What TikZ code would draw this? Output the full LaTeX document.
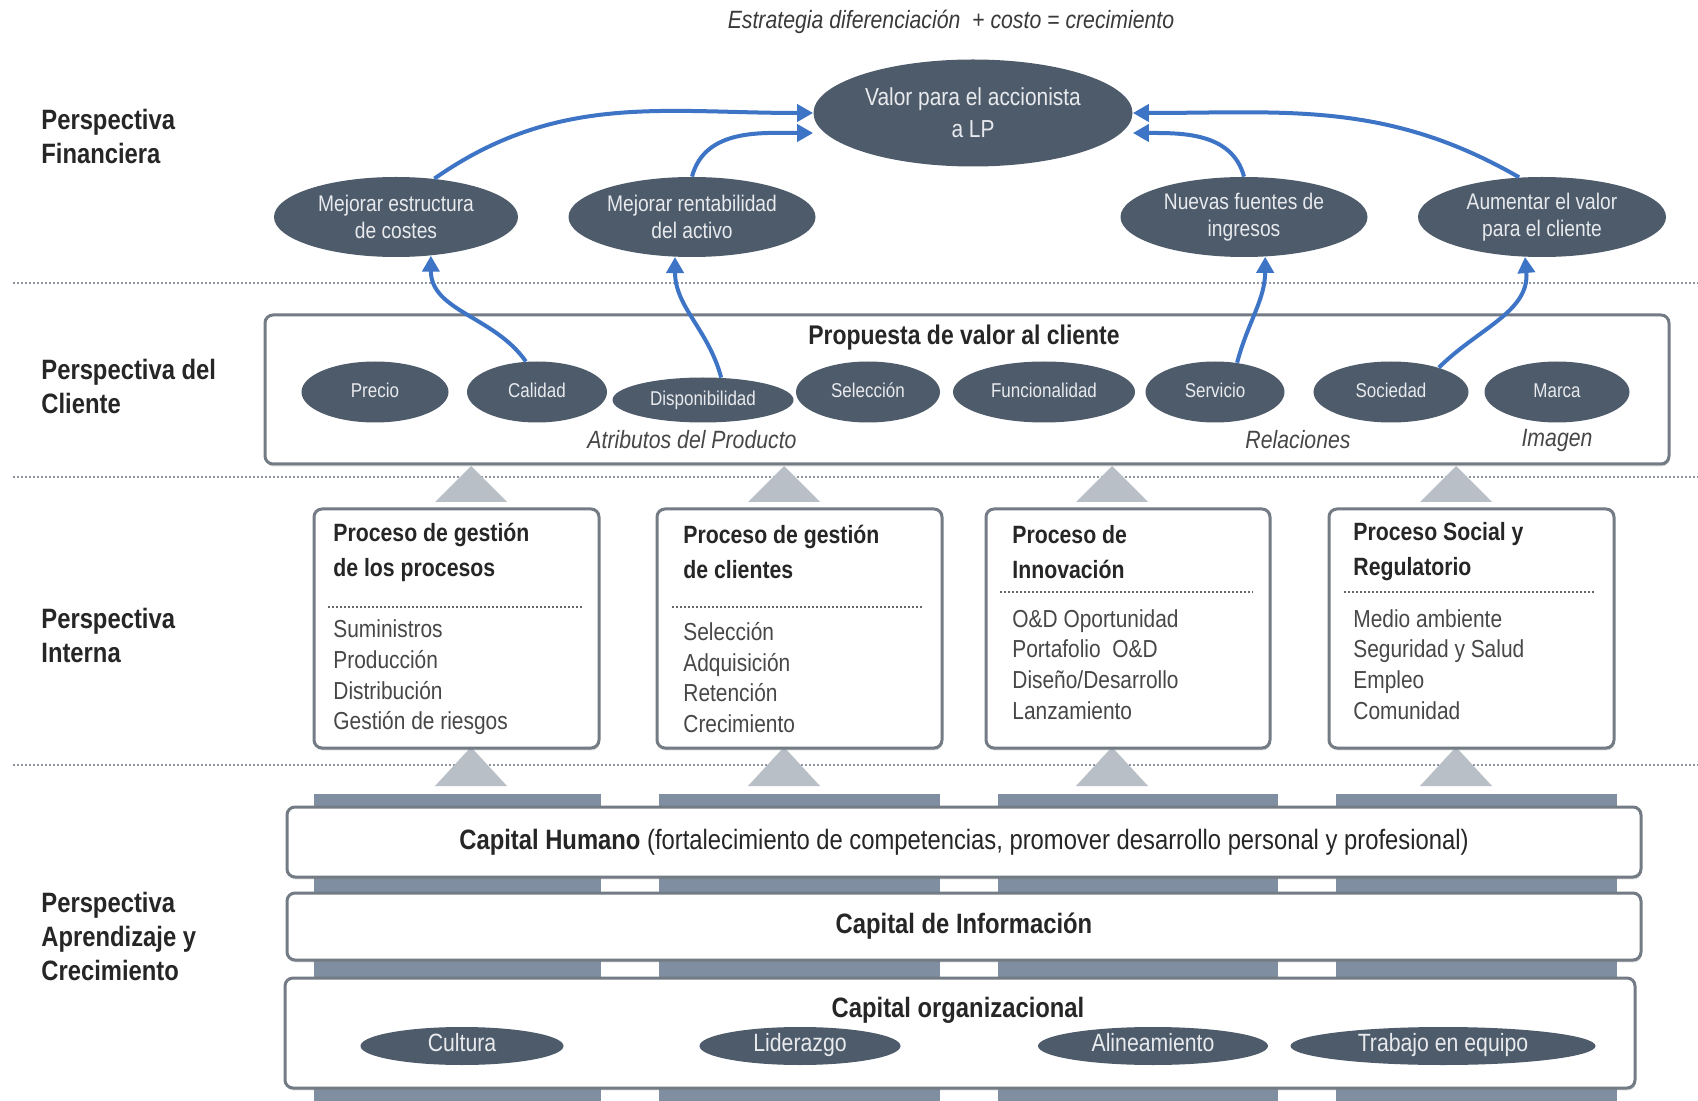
\documentclass[tikz,border=0pt]{standalone}
\usepackage{fontspec}
\setmainfont{Liberation Sans}[FakeStretch=0.85]
\usetikzlibrary{arrows.meta,shapes.geometric,shadows}

\definecolor{ovalgris}{HTML}{4D5B6B}
\definecolor{ovaltexto}{HTML}{E8EAED}
\definecolor{colgris}{HTML}{7F8FA1}
\definecolor{bordegris}{HTML}{737B85}
\definecolor{trigris}{HTML}{B9BFC7}
\definecolor{azul}{HTML}{3D74C5}
\definecolor{sepgris}{HTML}{8D96A0}
\definecolor{textoosc}{HTML}{262626}
\definecolor{titgris}{HTML}{3A3A3A}

\newcommand{\tam}[2]{\fontsize{#1}{#2}\selectfont}

\begin{document}
\begin{tikzpicture}[
      x=0.5pt, y=-0.5pt,
      every node/.style={text=textoosc},
      ovalo/.style={ellipse, fill=ovalgris, text=ovaltexto, inner sep=0pt, align=center},
      ovaluno/.style={ovalo, text height=0.72em, text depth=0.21em},
      caja/.style={draw=bordegris, line width=1.5pt, rounded corners=4pt, fill=white,
                   inner sep=0pt, drop shadow={shadow xshift=0.4pt, shadow yshift=-1.2pt, opacity=.3}},
      flecha/.style={draw=azul, line width=2pt, -{Triangle[length=8pt,width=8.5pt]}},
      sep/.style={draw=sepgris, line width=1.3pt, dash pattern=on 1pt off 1pt},
      sepint/.style={draw=textoosc!70, line width=1pt, dash pattern=on 1pt off 1pt},
      persp/.style={anchor=west, align=left, inner sep=0pt, font=\tam{14}{17}\bfseries},
      ptitulo/.style={anchor=west, align=left, inner sep=0pt, font=\tam{12.5}{17.5}\bfseries},
      pitems/.style={anchor=west, align=left, inner sep=0pt, text=textoosc!85, font=\tam{12.3}{15.3}},
      etiq/.style={inner sep=0pt, text=textoosc!85, font=\tam{12.5}{15}\itshape}
    ]
    \useasboundingbox (0,0) rectangle (1698,1101);
    \fill[white] (0,0) rectangle (1698,1101);

    % Separadores
    \foreach \y in {283,477,765}
      \draw[sep] (13,\y) -- (1698,\y);

    % Titulo
    \node[font=\tam{12.5}{15}\itshape, text=titgris, inner sep=0pt] (titulo) at (951,22)
      {Estrategia diferenciación\ \ + costo = crecimiento};

    % Perspectivas
    \node[persp] (pfin) at (41,136) {Perspectiva\\Financiera};
    \node[persp] (pcli) at (41,386) {Perspectiva del\\Cliente};
    \node[persp] (pint) at (41,635) {Perspectiva\\Interna};
    \node[persp] (papr) at (41,936) {Perspectiva\\Aprendizaje y\\Crecimiento};

    % Financiera
    \node[ovalo, minimum width=159.5pt, minimum height=53.5pt, font=\tam{12.3}{16}] (valor) at (973,113)
      {Valor para el accionista\\a LP};
    \node[ovalo, minimum width=122pt, minimum height=40pt, font=\tam{11.3}{13.5}] (mec) at (396,217)
      {Mejorar estructura\\de costes};
    \node[ovalo, minimum width=123.5pt, minimum height=40pt, font=\tam{11.3}{13.5}] (mrent) at (692,217)
      {Mejorar rentabilidad\\del activo};
    \node[ovalo, minimum width=123.5pt, minimum height=40pt, font=\tam{11.3}{13.5}] (nuevas) at (1244,217)
      {Nuevas fuentes de\\ingresos};
    \node[ovalo, minimum width=124pt, minimum height=40pt, font=\tam{11.3}{13.5}] (aum) at (1542,217)
      {Aumentar el valor\\para el cliente};

    % Cliente
    \node[caja, minimum width=702pt, minimum height=74.5pt] (propbox) at (967,389.5) {};
    \node[inner sep=0pt, font=\tam{13.5}{15}\bfseries] (proptit) at (964,338) {Propuesta de valor al cliente};
    \node[ovaluno, minimum width=73.5pt, minimum height=30.5pt, font=\tam{10}{12}] (precio) at (375,392) {Precio};
    \node[ovaluno, minimum width=70pt, minimum height=30.5pt, font=\tam{10}{12}] (calidad) at (537,392) {Calidad};
    \node[ovaluno, minimum width=90.5pt, minimum height=22.5pt, font=\tam{10}{12}] (disp) at (703,400) {Disponibilidad};
    \node[ovaluno, minimum width=72pt, minimum height=30.5pt, font=\tam{10}{12}] (selec) at (868,392) {Selección};
    \node[ovaluno, minimum width=91pt, minimum height=30.5pt, font=\tam{10}{12}] (func) at (1044,392) {Funcionalidad};
    \node[ovaluno, minimum width=69.5pt, minimum height=30.5pt, font=\tam{10}{12}] (serv) at (1215,392) {Servicio};
    \node[ovaluno, minimum width=77.5pt, minimum height=30.5pt, font=\tam{10}{12}] (soc) at (1391,392) {Sociedad};
    \node[ovaluno, minimum width=72.5pt, minimum height=30.5pt, font=\tam{10}{12}] (marca) at (1557,392) {Marca};
    \node[etiq] (atrib) at (692,440) {Atributos del Producto};
    \node[etiq] (relac) at (1298,440) {Relaciones};
    \node[etiq] (imagen) at (1557,440) {Imagen};

    % Flechas grises
    \foreach \x in {471,784,1112,1456} {
      \fill[trigris] (\x,466) -- (\x+36,502) -- (\x-36,502) -- cycle;
      \fill[trigris] (\x,747) -- (\x+36,786) -- (\x-36,786) -- cycle;
    }

    % Interna
    \node[caja, minimum width=142.5pt, minimum height=119.5pt] (pbox1) at (456.5,628.5) {};
    \node[caja, minimum width=142.5pt, minimum height=119.5pt] (pbox2) at (799.5,628.5) {};
    \node[caja, minimum width=142pt, minimum height=119.5pt] (pbox3) at (1128,628.5) {};
    \node[caja, minimum width=142.5pt, minimum height=119.5pt] (pbox4) at (1471.5,628.5) {};

    \node[ptitulo] (pt1) at (333,552) {Proceso de gestión\\de los procesos};
    \node[ptitulo] (pt2) at (683,552) {Proceso de gestión\\de clientes};
    \node[ptitulo] (pt3) at (1012,552) {Proceso de\\Innovación};
    \node[ptitulo] (pt4) at (1353,552) {Proceso Social y\\Regulatorio};

    \draw[sepint] (328,607) -- (583,607);
    \draw[sepint] (672,607) -- (924,607);
    \draw[sepint] (1000,592) -- (1253,592);
    \draw[sepint] (1344,592) -- (1596,592);

    \node[pitems] (pi1) at (333,677.5) {Suministros\\Producción\\Distribución\\Gestión de riesgos};
    \node[pitems] (pi2) at (683,677.5) {Selección\\Adquisición\\Retención\\Crecimiento};
    \node[pitems] (pi3) at (1012,664.5) {O\&D Oportunidad\\Portafolio\ \ O\&D\\Diseño/Desarrollo\\Lanzamiento};
    \node[pitems] (pi4) at (1353,664.5) {Medio ambiente\\Seguridad y Salud\\Empleo\\Comunidad};

    % Aprendizaje y crecimiento
    \foreach \a/\b in {314/601,659/940,998/1278,1336/1617}
      \fill[colgris] (\a,794) rectangle (\b,1101);

    \node[caja, minimum width=677pt, minimum height=35pt, font=\tam{14}{16}] (chum) at (964,842)
      {\textbf{Capital Humano} (fortalecimiento de competencias, promover desarrollo personal y profesional)};
    \node[caja, minimum width=677pt, minimum height=33.5pt, font=\tam{14}{16}\bfseries] (cinf) at (964,926.5)
      {Capital de Información};
    \node[caja, minimum width=675pt, minimum height=55pt] (corg) at (960,1033) {};
    \node[inner sep=0pt, font=\tam{14}{16}\bfseries] (corgtit) at (958,1010) {Capital organizacional};
    \node[ovaluno, minimum width=101.5pt, minimum height=19pt, font=\tam{12.5}{14}] (cultura) at (462,1046) {Cultura};
    \node[ovaluno, minimum width=100.5pt, minimum height=19pt, font=\tam{12.5}{14}] (lider) at (800,1046) {Liderazgo};
    \node[ovaluno, minimum width=115pt, minimum height=19pt, font=\tam{12.5}{14}] (alin) at (1153,1046) {Alineamiento};
    \node[ovaluno, minimum width=152.5pt, minimum height=19pt, font=\tam{12.5}{14}] (trabajo) at (1443,1046) {Trabajo en equipo};

    % Flechas azules
    \draw[flecha] (mec.45) to[out=35,in=180] (valor.west);
    \draw[flecha] (mrent.north) to[out=75,in=180] ([yshift=-10pt]valor.west);
    \draw[flecha] (nuevas.north) to[out=105,in=0] ([yshift=-10pt]valor.east);
    \draw[flecha] (aum.120) to[out=150,in=0] (valor.east);

    \draw[flecha] (calidad.110) to[out=125,in=-90] (mec.-48);
    \draw[flecha] (disp.51) to[out=105,in=-90] (mrent.-113);
    \draw[flecha] (serv.53) to[out=75,in=-90] (nuevas.-62);
    \draw[flecha] (soc.27) to[out=45,in=-85] (aum.-113);
  \end{tikzpicture}
\end{document}
